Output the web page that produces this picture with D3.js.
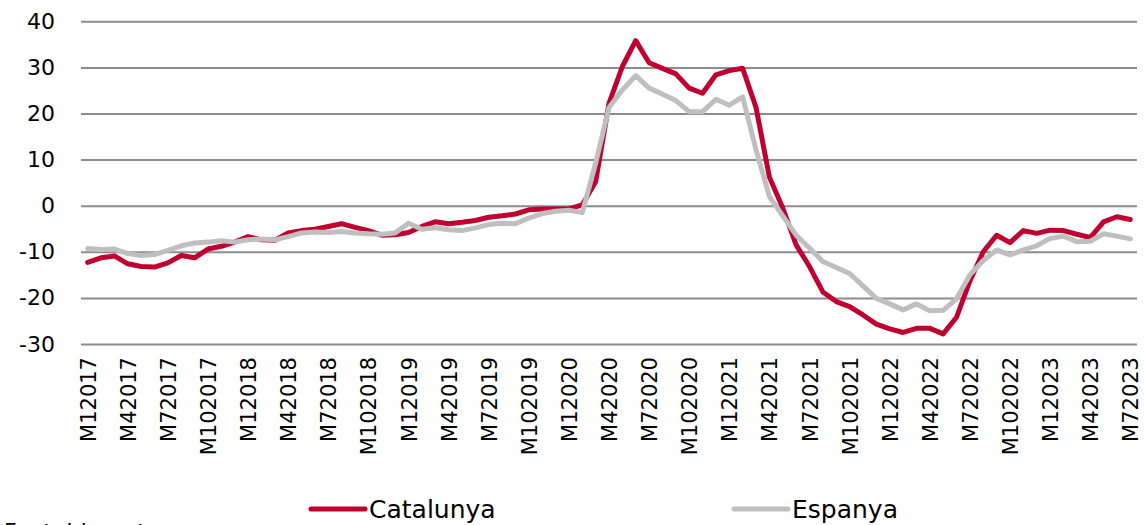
<!DOCTYPE html>
<html>
<head>
<meta charset="utf-8">
<script src="https://cdn.jsdelivr.net/npm/d3@7"></script>
<style>
  body { margin: 0; background: #fff; }
  svg { display: block; font-family: "DejaVu Sans", Verdana, sans-serif; }
</style>
</head>
<body>
<div id="chart"></div>
<script>
// monthly data, Jan 2017 .. Jul 2023
var months = [];
for (var yr = 2017; yr <= 2023; yr++) {
  for (var m = 1; m <= 12; m++) {
    if (yr == 2023 && m > 7) break;
    months.push("M" + m + yr);
  }
}

var catalunya = [
  -12.3, -11.3, -10.9, -12.6, -13.2, -13.3, -12.4, -10.8, -11.3, -9.4, -8.8, -7.9,
  -6.7, -7.4, -7.5, -5.9, -5.4, -5.1, -4.5, -3.9, -4.7, -5.4, -6.4, -6.3,
  -5.8, -4.5, -3.5, -3.9, -3.6, -3.2, -2.5, -2.2, -1.8, -0.9, -0.7, -0.7,
  -0.7, 0.2, 5.2, 22.2, 30.2, 35.8, 31.0, 29.8, 28.6, 25.5, 24.4, 28.4,
  29.3, 29.8, 21.3, 6.2, -0.5, -8.5, -13.2, -18.7, -20.8, -21.9, -23.7, -25.7,
  -26.7, -27.5, -26.6, -26.6, -27.8, -24.2, -16.3, -10.0, -6.4, -8.0, -5.4, -6.0,
  -5.3, -5.4, -6.2, -6.9, -3.5, -2.4, -3.0
];

var espanya = [
  -9.3, -9.5, -9.4, -10.4, -10.8, -10.6, -9.7, -8.7, -8.1, -7.9, -7.6, -7.9,
  -7.4, -7.2, -7.4, -6.7, -5.9, -5.7, -5.8, -5.6, -5.9, -6.1, -6.2, -5.9,
  -3.8, -5.1, -4.8, -5.2, -5.4, -4.8, -4.1, -3.8, -3.9, -2.7, -1.7, -1.2,
  -1.0, -1.5, 9.2, 21.3, 25.1, 28.2, 25.5, 24.2, 22.8, 20.4, 20.4, 23.1,
  21.8, 23.6, 12.1, 2.0, -2.2, -6.4, -9.2, -12.1, -13.4, -14.7, -17.4, -20.1,
  -21.3, -22.6, -21.3, -22.8, -22.7, -20.2, -15.0, -11.9, -9.6, -10.7, -9.6, -8.7,
  -7.1, -6.6, -7.8, -7.7, -6.1, -6.6, -7.2
];

var yTicks = [-30, -20, -10, 0, 10, 20, 30, 40];
var seriesNames = ["Catalunya", "Espanya"];
var colors = ["#C0002F", "#BFBFBF"];
var source = "Font: Idescat";

var width = 1144, height = 525;
var plotLeft = 81, plotRight = 1137, plotTop = 21.3, plotBottom = 344;

var svg = d3.select("#chart")
  .append("svg")
    .attr("width", width)
    .attr("height", height);

var x = d3.scalePoint()
  .domain(months)
  .range([plotLeft, plotRight])
  .padding(0.5);

var y = d3.scaleLinear()
  .domain([-30, 40])
  .range([plotBottom, plotTop]);

// gridlines + y labels (plain hyphen for negatives)
var yax = d3.axisLeft(y)
  .tickValues(yTicks)
  .tickSize(-(plotRight - plotLeft))
  .tickPadding(26)
  .tickFormat(function(d) { return String(d); });

var gy = svg.append("g")
  .attr("transform", "translate(" + plotLeft + ",0)")
  .call(yax);
gy.select(".domain").remove();
gy.selectAll(".tick line")
  .attr("x1", 0)
  .attr("x2", plotRight - plotLeft)
  .style("stroke", "#8c8c8c")
  .style("stroke-width", 2);
gy.selectAll(".tick text")
  .style("font-size", "22px")
  .style("fill", "#000")
  .style("font-family", "DejaVu Sans, Verdana, sans-serif");

// x labels every 3 months
var xax = d3.axisBottom(x)
  .tickValues(months.filter(function(d, i) { return i % 3 == 0; }))
  .tickSize(0);

var gx = svg.append("g")
  .attr("transform", "translate(0," + plotBottom + ")")
  .call(xax);
gx.select(".domain").remove();
gx.selectAll(".tick text")
  .attr("transform", "rotate(-90)")
  .attr("text-anchor", "end")
  .attr("x", -13)
  .attr("y", 0)
  .attr("dy", "0.36em")
  .style("font-size", "21px")
  .style("fill", "#000")
  .style("font-family", "DejaVu Sans, Verdana, sans-serif");

// lines
var line = d3.line()
  .x(function(d, i) { return x(months[i]); })
  .y(function(d) { return y(d); });

[catalunya, espanya].forEach(function(s, k) {
  svg.append("path")
    .datum(s)
    .attr("d", line)
    .style("fill", "none")
    .style("stroke", colors[k])
    .style("stroke-width", 5)
    .style("stroke-linejoin", "round")
    .style("stroke-linecap", "round");
});

// legend
var legX = [311, 734];
var leg = svg.append("g");
seriesNames.forEach(function(n, k) {
  leg.append("line")
    .attr("x1", legX[k])
    .attr("x2", legX[k] + 54)
    .attr("y1", 509)
    .attr("y2", 509)
    .style("stroke", colors[k])
    .style("stroke-width", 5)
    .style("stroke-linecap", "round");
  leg.append("text")
    .attr("x", legX[k] + 58)
    .attr("y", 518)
    .text(n)
    .style("font-size", "25px")
    .style("fill", "#000");
});

svg.append("text")
  .attr("x", 4)
  .attr("y", 539)
  .text(source)
  .style("font-size", "22px")
  .style("fill", "#000");
</script>
</body>
</html>
